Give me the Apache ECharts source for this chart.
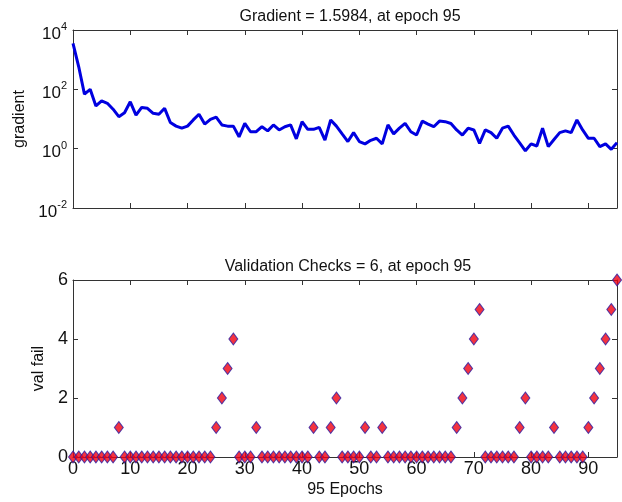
<!DOCTYPE html>
<html>
<head>
<meta charset="utf-8">
<script src="https://cdn.jsdelivr.net/npm/echarts@6/dist/echarts.min.js"></script>
<style>
  html, body { margin: 0; padding: 0; background: #fff; }
  #chart { width: 622px; height: 502px; }
</style>
</head>
<body>
<div id="chart"></div>
<script>
// epochs 0..95
var epochs = [];
for (var i = 0; i <= 95; i++) epochs.push(i);

// gradient per epoch
var gradient = [
    3550, 575, 69, 100, 27.5, 40.7, 33.9, 21.4, 12.0, 16.2,
    38.0, 13.5, 24.5, 22.9, 15.5, 14.5, 22.9, 7.59, 5.75, 4.90,
    5.75, 9.33, 14.5, 6.76, 9.77, 11.5, 6.31, 5.75, 5.75, 2.51,
    7.08, 3.72, 3.72, 5.50, 3.98, 6.31, 4.27, 5.50, 6.31, 2.14,
    8.13, 4.47, 4.47, 5.25, 1.95, 9.33, 5.75, 3.16, 1.74, 3.47,
    1.74, 1.45, 1.91, 2.24, 1.45, 6.31, 3.16, 4.90, 7.08, 3.72,
    2.88, 8.51, 6.76, 5.50, 8.51, 8.13, 7.08, 4.27, 2.88, 4.90,
    4.27, 1.51, 4.27, 3.47, 2.24, 4.90, 5.75, 2.88, 1.58, 0.85,
    1.45, 1.23, 4.90, 1.17, 2.04, 3.47, 3.98, 3.47, 9.33, 4.27,
    2.24, 2.24, 1.17, 1.45, 0.95, 1.5984
];

// validation fail count per epoch
var valFail = [
    0, 0, 0, 0, 0, 0, 0, 0, 1, 0,
    0, 0, 0, 0, 0, 0, 0, 0, 0, 0,
    0, 0, 0, 0, 0, 1, 2, 3, 4, 0,
    0, 0, 1, 0, 0, 0, 0, 0, 0, 0,
    0, 0, 1, 0, 0, 1, 2, 0, 0, 0,
    0, 1, 0, 0, 1, 0, 0, 0, 0, 0,
    0, 0, 0, 0, 0, 0, 0, 1, 2, 3,
    4, 5, 0, 0, 0, 0, 0, 0, 1, 2,
    0, 0, 0, 0, 1, 0, 0, 0, 0, 0,
    1, 2, 3, 4, 5, 6
];

var titles = ['Gradient = 1.5984, at epoch 95', 'Validation Checks = 6, at epoch 95'];
var xTicks = [0, 10, 20, 30, 40, 50, 60, 70, 80, 90];

var font = 'Liberation Sans, Arial, sans-serif';
var axisColor = '#333';
var txt = '#111';

var gradPts = epochs.map(function (e, k) { return [e, gradient[k]]; });
var failPts = epochs.map(function (e, k) { return [e, valFail[k]]; });

// matlab-like box: line + inward ticks, no grid
function boxAxis(extra) {
    var base = {
        axisLine: { show: true, onZero: false, lineStyle: { color: axisColor, width: 1 } },
        axisTick: { show: true, inside: true, length: 5, lineStyle: { color: axisColor } },
        splitLine: { show: false },
        axisLabel: { show: false }
    };
    for (var k in extra) base[k] = extra[k];
    return base;
}

var chart = echarts.init(document.getElementById('chart'));
var option = {
    backgroundColor: '#fff',
    animation: false,
    textStyle: { fontFamily: font },
    title: [
        { text: titles[0], left: 345, top: 4, textAlign: 'center',
          textStyle: { fontSize: 16, fontWeight: 'normal', color: txt, fontFamily: font } },
        { text: titles[1], left: 343, top: 254, textAlign: 'center',
          textStyle: { fontSize: 16, fontWeight: 'normal', color: txt, fontFamily: font } }
    ],
    grid: [
        { left: 73, top: 30, width: 544, height: 178 },
        { left: 73, top: 280, width: 544, height: 177 }
    ],
    xAxis: [
        boxAxis({ gridIndex: 0, type: 'value', min: 0, max: 95, interval: 10, position: 'bottom' }),
        boxAxis({ gridIndex: 0, type: 'value', min: 0, max: 95, interval: 10, position: 'top' }),
        boxAxis({ gridIndex: 1, type: 'value', min: 0, max: 95, interval: 10, position: 'bottom',
            name: '95 Epochs', nameLocation: 'middle', nameGap: 25,
            nameTextStyle: { fontSize: 16, color: txt, fontFamily: font },
            axisLabel: { show: true, fontSize: 18, color: txt, margin: 3, fontFamily: font,
                formatter: function (v) { return xTicks.indexOf(v) >= 0 ? String(v) : ''; } } }),
        boxAxis({ gridIndex: 1, type: 'value', min: 0, max: 95, interval: 10, position: 'top' })
    ],
    yAxis: [
        boxAxis({ gridIndex: 0, type: 'log', logBase: 10, min: 0.01, max: 10000, interval: 2, position: 'left',
            name: 'gradient', nameLocation: 'middle', nameGap: 38, nameRotate: 90,
            nameTextStyle: { fontSize: 16, color: txt, fontFamily: font },
            axisLabel: { show: true, margin: 6, fontFamily: font,
                formatter: function (v) {
                    var p = Math.round(Math.log(v) / Math.LN10);
                    return '{b|10}{s|' + p + '}';
                },
                rich: {
                    b: { fontSize: 17, color: txt, fontFamily: font, padding: [8, 0, 0, 0] },
                    s: { fontSize: 11, color: txt, fontFamily: font, padding: [0, 0, 6, 0] }
                } } }),
        boxAxis({ gridIndex: 0, type: 'log', logBase: 10, min: 0.01, max: 10000, interval: 2, position: 'right' }),
        boxAxis({ gridIndex: 1, type: 'value', min: 0, max: 6, interval: 2, position: 'left',
            name: 'val fail', nameLocation: 'middle', nameGap: 24, nameRotate: 90,
            nameTextStyle: { fontSize: 16, color: txt, fontFamily: font },
            axisLabel: { show: true, fontSize: 18, color: txt, margin: 5, fontFamily: font } }),
        boxAxis({ gridIndex: 1, type: 'value', min: 0, max: 6, interval: 2, position: 'right' })
    ],
    series: [
        {
            type: 'line', xAxisIndex: 0, yAxisIndex: 0, data: gradPts,
            showSymbol: false, symbol: 'none',
            lineStyle: { color: '#0000e0', width: 3 }
        },
        {
            type: 'scatter', xAxisIndex: 2, yAxisIndex: 2, data: failPts,
            symbol: 'diamond', symbolSize: [9, 12], clip: false,
            itemStyle: { color: '#f00010', borderColor: '#2a20a8', borderWidth: 1 }
        }
    ]
};
chart.setOption(option);
</script>
</body>
</html>
